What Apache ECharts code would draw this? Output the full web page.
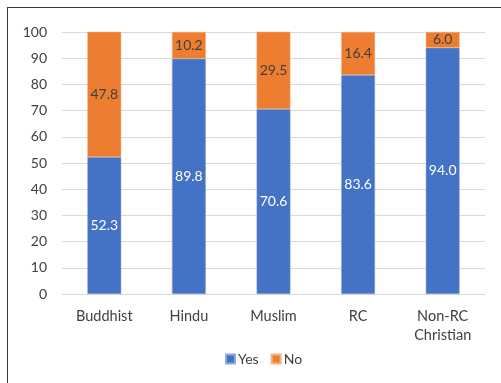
<!DOCTYPE html>
<html>
<head>
<meta charset="utf-8">
<script src="https://cdn.jsdelivr.net/npm/echarts@6/dist/echarts.min.js"></script>
<style>
  html, body { margin: 0; padding: 0; background: #fff; }
  #frame { position: absolute; left: 7px; top: 7px; width: 520px; height: 400px; border-left: 1.5px solid #3a3a3a; border-top: 1.5px solid #3a3a3a; }
  #chart { position: absolute; left: 0; top: 0; width: 501px; height: 383px; }
</style>
</head>
<body>
<div id="frame"></div>
<div id="chart"></div>
<script>
const categories = ['Buddhist', 'Hindu', 'Muslim', 'RC', 'Non-RC\nChristian'];
const yesValues = [52.3, 89.8, 70.6, 83.6, 94.0];
const noValues = [47.8, 10.2, 29.5, 16.4, 6.0];
const yTicks = [0, 10, 20, 30, 40, 50, 60, 70, 80, 90, 100];

const font = 'Lato, "Open Sans", sans-serif';
const chart = echarts.init(document.getElementById('chart'), null, { renderer: 'canvas' });

chart.setOption({
  animation: false,
  textStyle: { fontFamily: font },
  grid: { left: 62, right: 16, top: 32, bottom: 89, containLabel: false },
  legend: {
    top: 347,
    left: 220,
    itemWidth: 9,
    itemHeight: 9,
    itemGap: 12,
    icon: 'rect',
    textStyle: { color: '#404040', fontSize: 14, fontFamily: font, padding: [0, 0, 0, -2] },
    data: ['Yes', 'No']
  },
  xAxis: {
    type: 'category',
    data: categories,
    axisLine: { show: true, lineStyle: { color: '#d9d9d9', width: 1 } },
    axisTick: { show: false },
    axisLabel: { color: '#404040', fontSize: 14.5, margin: 13, lineHeight: 19, fontFamily: font }
  },
  yAxis: {
    type: 'value',
    min: yTicks[0],
    max: yTicks[yTicks.length - 1],
    interval: 10,
    axisLine: { show: false },
    axisTick: { show: false },
    axisLabel: { color: '#404040', fontSize: 14, margin: 15, fontFamily: font },
    splitLine: { lineStyle: { color: '#d9d9d9', width: 1 } }
  },
  series: [
    {
      name: 'Yes',
      type: 'bar',
      stack: 'total',
      barWidth: '40%',
      data: yesValues,
      itemStyle: { color: '#4472C4', borderColor: '#8faadc', borderWidth: 0.5 },
      label: {
        show: true, position: 'inside', color: '#ffffff', fontSize: 14, fontFamily: font,
        formatter: p => p.value.toFixed(1)
      }
    },
    {
      name: 'No',
      type: 'bar',
      stack: 'total',
      barWidth: '40%',
      data: noValues,
      itemStyle: { color: '#ED7D31', borderColor: '#f4b183', borderWidth: 0.5 },
      label: {
        show: true, position: 'inside', color: '#404040', fontSize: 14, fontFamily: font,
        formatter: p => p.value.toFixed(1)
      }
    }
  ]
});
</script>
</body>
</html>
